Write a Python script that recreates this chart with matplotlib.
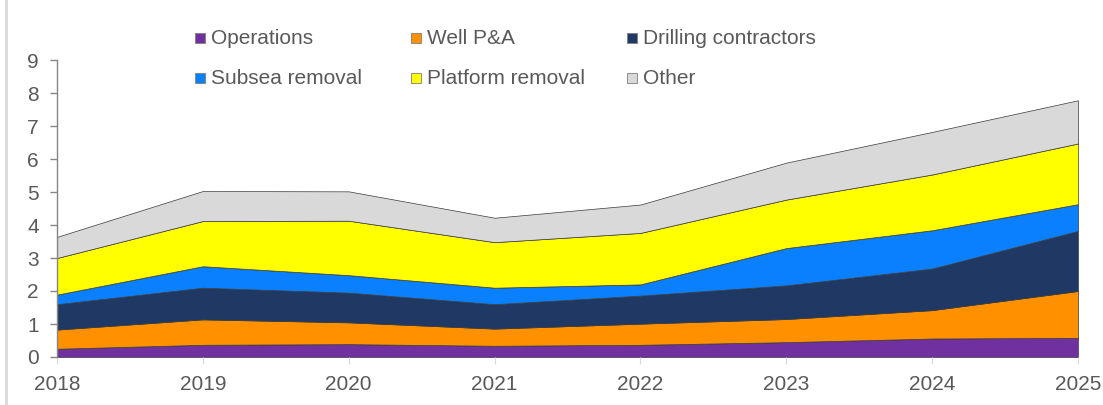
import matplotlib
matplotlib.use("Agg")
import matplotlib.pyplot as plt
from matplotlib.patches import Rectangle
from matplotlib.lines import Line2D

plt.rcParams['font.family'] = ['Liberation Sans', 'DejaVu Sans']

years = [2018, 2019, 2020, 2021, 2022, 2023, 2024, 2025]
series_names = ["Operations", "Well P&A", "Drilling contractors",
                "Subsea removal", "Platform removal", "Other"]
operations = [0.25, 0.37, 0.39, 0.34, 0.37, 0.45, 0.56, 0.58]
well_pa = [0.58, 0.77, 0.66, 0.52, 0.64, 0.70, 0.86, 1.42]
drilling = [0.77, 0.96, 0.90, 0.74, 0.85, 1.02, 1.26, 1.82]
subsea = [0.29, 0.65, 0.53, 0.50, 0.34, 1.13, 1.16, 0.81]
platform = [1.11, 1.37, 1.65, 1.38, 1.56, 1.47, 1.69, 1.84]
other = [0.64, 0.91, 0.89, 0.74, 0.86, 1.12, 1.29, 1.31]
y_ticks = list(range(0, 10))

colors = ["#7030A0", "#FF9100", "#1F3864", "#0A80FF", "#FFFF00", "#D9D9D9"]
text_color = "#595959"

W, H = 1103, 405
fig = plt.figure(figsize=(W / 100, H / 100), dpi=100)
ax = fig.add_axes([57 / W, 1 - 357 / H, (1078 - 57) / W, (357 - 60) / H])

ax.stackplot(years, operations, well_pa, drilling, subsea, platform, other,
             colors=colors, edgecolor="#3a3a3a", linewidth=0.5)

ax.set_xlim(years[0], years[-1])
ax.set_ylim(0, 9)
ax.set_xticks(years)
ax.set_xticklabels([str(y) for y in years])
ax.set_yticks(y_ticks)

for s in ["top", "right", "bottom"]:
    ax.spines[s].set_visible(False)
ax.spines["left"].set_color("#868686")
ax.spines["left"].set_linewidth(1.0)

ax.tick_params(axis="y", direction="out", length=5, width=1, color="#868686",
               labelsize=15, labelcolor=text_color, pad=8)
ax.tick_params(axis="x", direction="out", length=5, width=0.8, color="#D9D9D9",
               labelsize=15, labelcolor=text_color, pad=8)

# Legend drawn manually: 2 rows x 3 columns
col_x = [195, 411, 627]
row_y = [38, 78]
layout = [(0, 0, 0), (1, 0, 1), (2, 0, 2), (3, 1, 0), (4, 1, 1), (5, 1, 2)]
sq = 10
for idx, r, c in layout:
    x0 = col_x[c]
    yc = row_y[r]
    fig.add_artist(Rectangle((x0 / W, 1 - (yc + sq / 2) / H), sq / W, sq / H,
                             transform=fig.transFigure, facecolor=colors[idx],
                             edgecolor="#7f7f7f", linewidth=0.6))
    fig.text((x0 + sq + 6) / W, 1 - yc / H, series_names[idx], fontsize=15,
             color=text_color, va="center", ha="left")

fig.add_artist(Line2D([6 / W, 6 / W], [1 - 403 / H, 1.0], transform=fig.transFigure,
                      color="#D9D9D9", linewidth=2))

fig.savefig("out.png", dpi=100)
